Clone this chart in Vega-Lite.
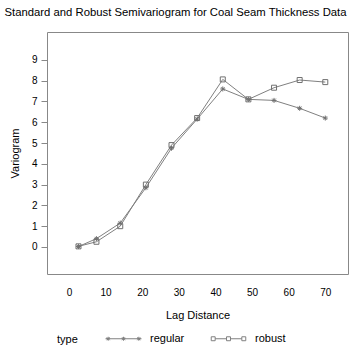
{
  "$schema": "https://vega.github.io/schema/vega-lite/v6.json",
  "width": 301,
  "height": 242,
  "autosize": {"type": "none"},
  "padding": {"left": 47, "top": 32, "right": 2, "bottom": 76},
  "background": "white",
  "title": {
    "text": "Standard and Robust Semivariogram for Coal Seam Thickness Data",
    "font": "Liberation Sans",
    "fontSize": 11.3,
    "fontWeight": "normal",
    "color": "black",
    "anchor": "middle",
    "dx": -22,
    "offset": 14
  },
  "config": {
    "view": {"stroke": "#888888", "strokeWidth": 1},
    "font": "Liberation Sans"
  },
  "data": {
    "values": [
      {"lag": 2.6, "variogram": 0.02, "type": "regular"},
      {"lag": 7.5, "variogram": 0.4, "type": "regular"},
      {"lag": 14, "variogram": 1.15, "type": "regular"},
      {"lag": 21, "variogram": 2.85, "type": "regular"},
      {"lag": 28, "variogram": 4.75, "type": "regular"},
      {"lag": 35, "variogram": 6.15, "type": "regular"},
      {"lag": 42, "variogram": 7.6, "type": "regular"},
      {"lag": 49, "variogram": 7.1, "type": "regular"},
      {"lag": 56, "variogram": 7.05, "type": "regular"},
      {"lag": 63, "variogram": 6.67, "type": "regular"},
      {"lag": 70, "variogram": 6.2, "type": "regular"},
      {"lag": 2.6, "variogram": 0.03, "type": "robust"},
      {"lag": 7.5, "variogram": 0.25, "type": "robust"},
      {"lag": 14, "variogram": 1.0, "type": "robust"},
      {"lag": 21, "variogram": 3.0, "type": "robust"},
      {"lag": 28, "variogram": 4.9, "type": "robust"},
      {"lag": 35, "variogram": 6.2, "type": "robust"},
      {"lag": 42, "variogram": 8.06, "type": "robust"},
      {"lag": 49, "variogram": 7.1, "type": "robust"},
      {"lag": 56, "variogram": 7.66, "type": "robust"},
      {"lag": 63, "variogram": 8.03, "type": "robust"},
      {"lag": 70, "variogram": 7.93, "type": "robust"}
    ]
  },
  "encoding": {
    "x": {
      "field": "lag",
      "type": "quantitative",
      "scale": {"domain": [-6, 76.2], "nice": false, "zero": false},
      "axis": {
        "title": "Lag Distance",
        "values": [0, 10, 20, 30, 40, 50, 60, 70],
        "grid": false,
        "domain": false,
        "ticks": false,
        "labelPadding": 13,
        "labelFontSize": 10,
        "labelColor": "black",
        "titleFontSize": 11,
        "titleFontWeight": "normal",
        "titleColor": "black",
        "titlePadding": 12
      }
    },
    "y": {
      "field": "variogram",
      "type": "quantitative",
      "scale": {"domain": [-1.3, 10.34], "nice": false, "zero": false},
      "axis": {
        "title": "Variogram",
        "values": [0, 1, 2, 3, 4, 5, 6, 7, 8, 9],
        "grid": false,
        "domain": false,
        "tickSize": 6,
        "tickColor": "#888888",
        "labelPadding": 4,
        "labelFontSize": 10,
        "labelColor": "black",
        "titleFontSize": 11,
        "titleFontWeight": "normal",
        "titleColor": "black",
        "titlePadding": 11
      }
    }
  },
  "resolve": {"scale": {"shape": "independent"}, "legend": {"shape": "independent"}},
  "layer": [
    {
      "mark": {"type": "line", "stroke": "#808080", "strokeWidth": 1},
      "encoding": {"detail": {"field": "type"}}
    },
    {
      "mark": {"type": "point", "filled": false, "stroke": "#707070", "strokeWidth": 1, "size": 25, "opacity": 1},
      "encoding": {
        "shape": {
          "field": "type",
          "type": "nominal",
          "scale": {
            "domain": ["regular", "robust"],
            "range": ["M-1,0H1M0,-1V1M-0.7,-0.7L0.7,0.7M-0.7,0.7L0.7,-0.7", "square"]
          },
          "legend": null
        }
      }
    },
    {
      "mark": {"type": "point", "filled": false, "stroke": "#808080", "strokeWidth": 1, "size": 1, "opacity": 0},
      "encoding": {
        "shape": {
          "field": "type",
          "type": "nominal",
          "scale": {
            "domain": ["regular", "robust"],
            "range": [
              "M-1,0H1M-0.96,0H-0.74M-0.85,-0.11V0.11M-0.93,-0.08L-0.77,0.08M-0.93,0.08L-0.77,-0.08M-0.11,0H0.11M0,-0.11V0.11M-0.08,-0.08L0.08,0.08M-0.08,0.08L0.08,-0.08M0.74,0H0.96M0.85,-0.11V0.11M0.77,-0.08L0.93,0.08M0.77,0.08L0.93,-0.08",
              "M-0.74,0H-0.11M0.11,0H0.74M-0.96,-0.11H-0.74V0.11H-0.96ZM-0.11,-0.11H0.11V0.11H-0.11ZM0.74,-0.11H0.96V0.11H0.74Z"
            ]
          },
          "legend": {
            "orient": "none",
            "legendX": 10,
            "legendY": 288,
            "direction": "horizontal",
            "title": "type",
            "titleOrient": "left",
            "titleAnchor": "middle",
            "titleBaseline": "line-top",
            "titleLineHeight": 16,
            "titleFontSize": 11,
            "titleFontWeight": "normal",
            "titleColor": "black",
            "titlePadding": 27,
            "labelFontSize": 11,
            "labelColor": "black",
            "labelOffset": 8,
            "columnPadding": 24,
            "symbolSize": 1296,
            "symbolOpacity": 1,
            "symbolStrokeColor": "#808080",
            "symbolFillColor": "transparent",
            "symbolStrokeWidth": 1
          }
        }
      }
    }
  ]
}
